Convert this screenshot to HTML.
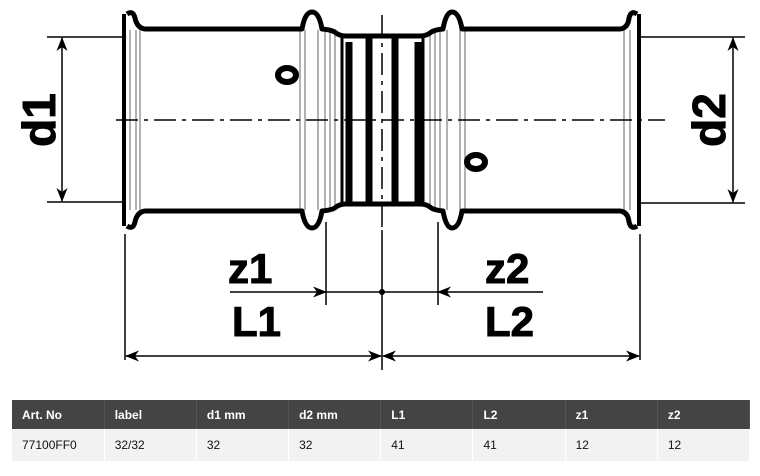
<!DOCTYPE html>
<html><head><meta charset="utf-8"><style>
body{margin:0;width:760px;height:476px;background:#fff;overflow:hidden;font-family:"Liberation Sans",sans-serif}
svg{position:absolute;left:0;top:0}
table{position:absolute;left:12px;top:400px;width:738px;border-collapse:collapse;table-layout:fixed;font-size:12px;font-family:"Liberation Sans",sans-serif}
th{background:#444;color:#fff;text-align:left;height:29px;padding:0 0 0 10px;font-weight:bold;border-right:1px solid #555}
td{background:#f2f2f2;color:#111;height:32px;padding:0 0 0 10px;border-right:1px solid #fff}
</style></head><body>
<svg width="760" height="400" viewBox="0 0 760 400">
<defs><marker id="a" markerWidth="14" markerHeight="11" refX="13" refY="5.5" orient="auto" markerUnits="userSpaceOnUse"><path d="M0,0 L14,5.5 L0,11 L4,5.5Z" fill="#000"/></marker></defs>
<g stroke="#000" fill="none">
<g stroke="#999" stroke-width="1.5">
<line x1="130" y1="30" x2="130" y2="210"/><line x1="136" y1="30" x2="136" y2="210"/><line x1="140" y1="30" x2="140" y2="210"/>
<line x1="300" y1="30" x2="300" y2="210"/><line x1="305" y1="30" x2="305" y2="210"/><line x1="318" y1="30" x2="318" y2="210"/><line x1="325" y1="32" x2="325" y2="208"/><line x1="330" y1="32" x2="330" y2="208"/><line x1="335" y1="34" x2="335" y2="206"/>
<line x1="430" y1="34" x2="430" y2="206"/><line x1="435" y1="32" x2="435" y2="208"/><line x1="440" y1="32" x2="440" y2="208"/><line x1="447" y1="30" x2="447" y2="210"/><line x1="460" y1="30" x2="460" y2="210"/><line x1="465" y1="30" x2="465" y2="210"/>
<line x1="624" y1="30" x2="624" y2="210"/><line x1="630" y1="30" x2="630" y2="210"/>
</g>
<path d="M127,14 Q133,10 135,18 Q137,28 145,29 L302,29 Q305,12 312,12 Q319,12 322,29 Q333,30 336,33 Q340,36 346,36 L420,36 Q426,36 430,33 Q433,30 443,29 Q446,12 452,12 Q459,12 462,29 L620,29 Q628,28 629,18 Q631,10 637,14" stroke-width="5" stroke-linejoin="round"/>
<path d="M127,226 Q133,230 135,222 Q137,212 145,211 L302,211 Q305,228 312,228 Q319,228 322,211 Q333,210 336,207 Q340,204 346,204 L420,204 Q426,204 430,207 Q433,210 443,211 Q446,228 452,228 Q459,228 462,211 L620,211 Q628,212 629,222 Q631,230 637,226" stroke-width="5" stroke-linejoin="round"/>
<line x1="124" y1="14" x2="124" y2="226" stroke-width="4"/>
<line x1="639" y1="14" x2="639" y2="226" stroke-width="4"/>
<line x1="342" y1="34" x2="342" y2="206" stroke-width="3"/>
<line x1="423" y1="34" x2="423" y2="206" stroke-width="3"/>
<g stroke-width="7"><line x1="349" y1="42" x2="349" y2="202"/><line x1="369" y1="38" x2="369" y2="204"/><line x1="395" y1="38" x2="395" y2="204"/><line x1="418" y1="42" x2="418" y2="202"/></g>
<ellipse cx="287" cy="75" rx="9" ry="7" stroke-width="6"/>
<ellipse cx="476" cy="162" rx="9" ry="7" stroke-width="6"/>
<line x1="116" y1="120" x2="665" y2="120" stroke-width="1.5" stroke-dasharray="22,6,4,6"/>
<line x1="382" y1="15" x2="382" y2="232" stroke-width="1.5" stroke-dasharray="22,6,4,6"/>
<g stroke-width="1.5">
<line x1="47" y1="37" x2="124" y2="37"/><line x1="47" y1="202" x2="124" y2="202"/>
<line x1="62" y1="120" x2="62" y2="38" marker-end="url(#a)"/><line x1="62" y1="120" x2="62" y2="201" marker-end="url(#a)"/>
<line x1="640" y1="37" x2="745" y2="37"/><line x1="640" y1="203" x2="745" y2="203"/>
<line x1="733" y1="120" x2="733" y2="38" marker-end="url(#a)"/><line x1="733" y1="120" x2="733" y2="202" marker-end="url(#a)"/>
<line x1="125" y1="234" x2="125" y2="360"/><line x1="640" y1="234" x2="640" y2="360"/>
<line x1="326" y1="222" x2="326" y2="305"/><line x1="438" y1="222" x2="438" y2="305"/>
<line x1="382" y1="230" x2="382" y2="370"/>
<line x1="230" y1="292" x2="326" y2="292" marker-end="url(#a)"/><line x1="326" y1="292" x2="438" y2="292"/>
<line x1="543" y1="292" x2="438" y2="292" marker-end="url(#a)"/>
<line x1="250" y1="356" x2="126" y2="356" marker-end="url(#a)"/><line x1="250" y1="356" x2="381" y2="356" marker-end="url(#a)"/>
<line x1="510" y1="356" x2="383" y2="356" marker-end="url(#a)"/><line x1="510" y1="356" x2="639" y2="356" marker-end="url(#a)"/>
</g>
<circle cx="382" cy="292" r="3" fill="#000" stroke="none"/>
</g>
<g font-family="Liberation Sans,sans-serif" font-weight="bold" font-size="42" fill="#000" stroke="#000" stroke-width="1">
<text x="228" y="283">z1</text><text x="485" y="283">z2</text>
<text x="232" y="336">L1</text><text x="485" y="336">L2</text>
<text transform="translate(55,120) rotate(-90)" text-anchor="middle" font-size="46">d1</text>
<text transform="translate(725,120) rotate(-90)" text-anchor="middle" font-size="46">d2</text>
</g>
</svg>
<table><tr><th>Art. No</th><th>label</th><th>d1 mm</th><th>d2 mm</th><th>L1</th><th>L2</th><th>z1</th><th>z2</th></tr>
<tr><td>77100FF0</td><td>32/32</td><td>32</td><td>32</td><td>41</td><td>41</td><td>12</td><td>12</td></tr></table>
</body></html>
